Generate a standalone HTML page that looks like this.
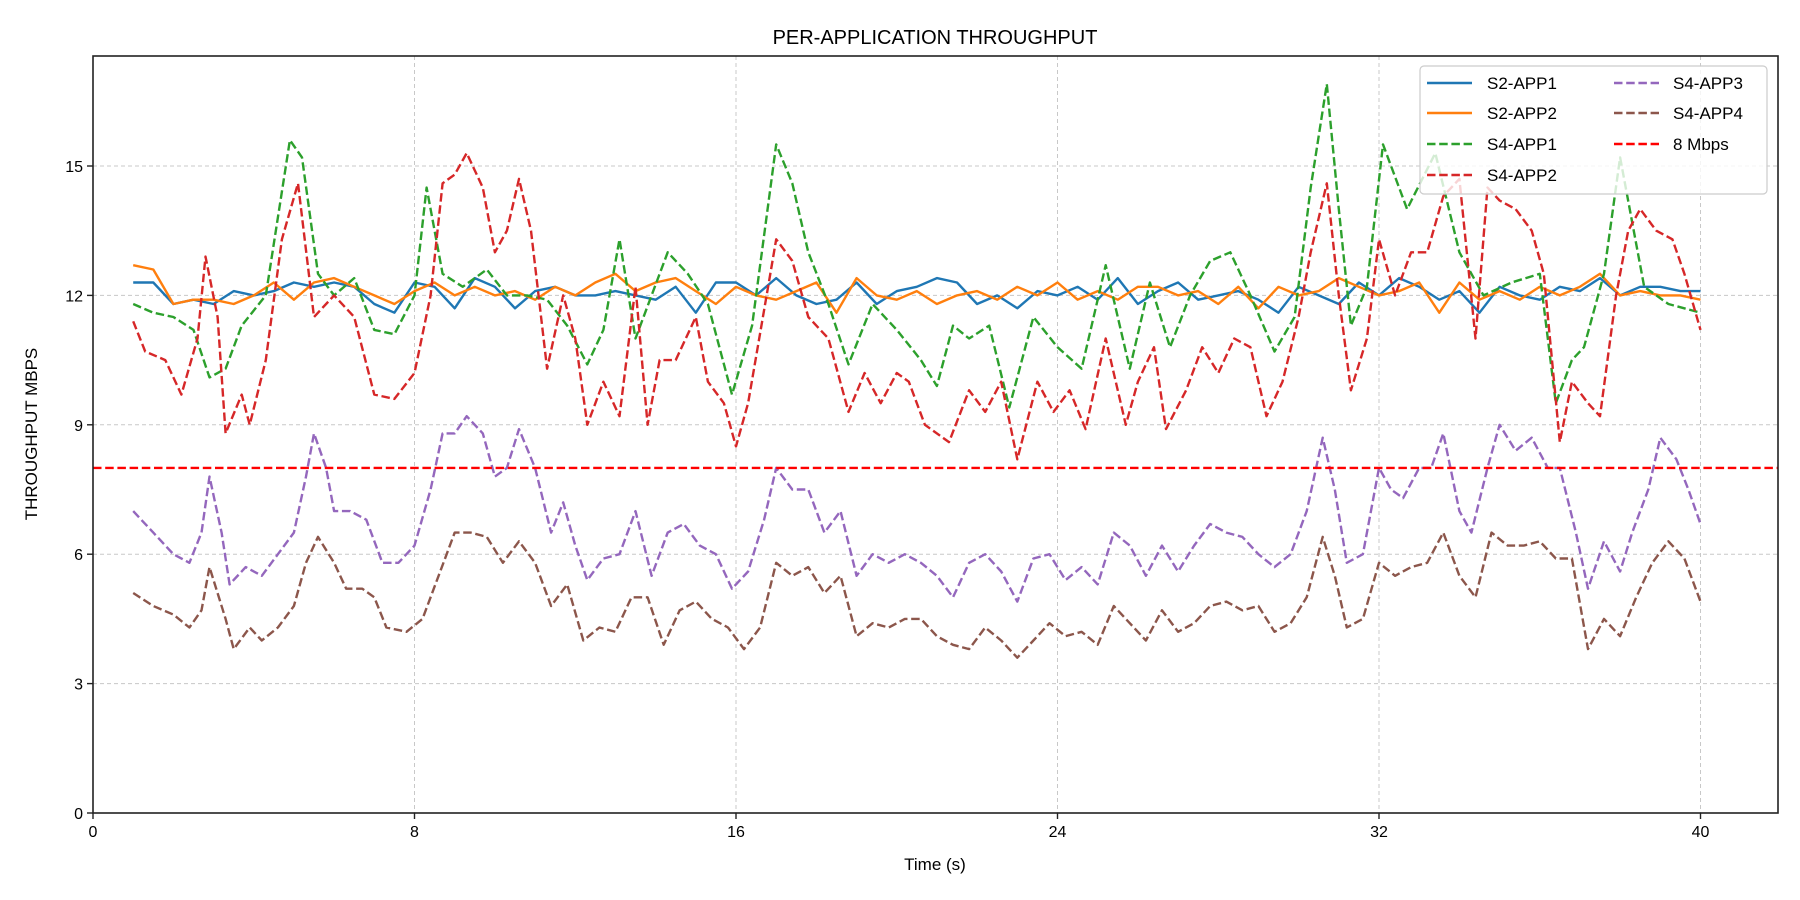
<!DOCTYPE html>
<html><head><meta charset="utf-8"><style>
html,body{margin:0;padding:0;background:#fff;}
svg{display:block;font-family:"Liberation Sans","DejaVu Sans",sans-serif;}
</style></head><body>
<svg id="chart" width="1800" height="900" viewBox="0 0 1800 900" xmlns="http://www.w3.org/2000/svg">
<text x="935" y="44" font-size="20" text-anchor="middle" fill="#000">PER-APPLICATION THROUGHPUT</text>
<text x="935" y="870" font-size="17" text-anchor="middle" fill="#000">Time (s)</text>
<text x="37" y="434" font-size="17" text-anchor="middle" fill="#000" transform="rotate(-90 37 434)">THROUGHPUT MBPS</text>
<g id="grid"></g>
<g id="series"></g>
<rect x="93" y="56" width="1685" height="757" fill="none" stroke="#222" stroke-width="1.6"/>
<g id="ticks"></g>
<g id="legend"></g>
</svg>
<script>
const xTicks=[0,8,16,24,32,40];
const yTicks=[0,3,6,9,12,15];
const threshold=8;
const s2app1=[12.3,12.3,11.8,11.9,11.8,12.1,12.0,12.1,12.3,12.2,12.3,12.2,11.8,11.6,12.3,12.2,11.7,12.4,12.2,11.7,12.1,12.2,12.0,12.0,12.1,12.0,11.9,12.2,11.6,12.3,12.3,12.0,12.4,12.0,11.8,11.9,12.3,11.8,12.1,12.2,12.4,12.3,11.8,12.0,11.7,12.1,12.0,12.2,11.9,12.4,11.8,12.1,12.3,11.9,12.0,12.1,11.9,11.6,12.2,12.0,11.8,12.3,12.0,12.4,12.2,11.9,12.1,11.6,12.2,12.0,11.9,12.2,12.1,12.4,12.0,12.2,12.2,12.1,12.1];
const s2app2=[12.7,12.6,11.8,11.9,11.9,11.8,12.0,12.3,11.9,12.3,12.4,12.2,12.0,11.8,12.1,12.3,12.0,12.2,12.0,12.1,11.9,12.2,12.0,12.3,12.5,12.1,12.3,12.4,12.1,11.8,12.2,12.0,11.9,12.1,12.3,11.6,12.4,12.0,11.9,12.1,11.8,12.0,12.1,11.9,12.2,12.0,12.3,11.9,12.1,11.9,12.2,12.2,12.0,12.1,11.8,12.2,11.7,12.2,12.0,12.1,12.4,12.2,12.0,12.1,12.3,11.6,12.3,11.9,12.1,11.9,12.2,12.0,12.2,12.5,12.0,12.1,12.0,12.0,11.9];
const app1T=[1,1.5,2,2.5,2.9,3.3,3.7,4.3,4.9,5.2,5.6,6,6.5,7,7.5,8,8.3,8.7,9.2,9.8,10.3,10.8,11.3,11.8,12.3,12.7,13.1,13.5,14.3,14.8,15.3,15.9,16.4,17.0,17.4,17.8,18.3,18.8,19.4,20,20.6,21,21.4,21.8,22.3,22.8,23.4,24,24.6,25.2,25.8,26.3,26.8,27.3,27.8,28.3,28.8,29.4,29.9,30.3,30.7,31.0,31.3,31.7,32.1,32.7,33.4,34.0,34.6,35.3,36.0,36.4,36.8,37.1,37.6,38.0,38.6,39.2,40];
const app1V=[11.8,11.6,11.5,11.2,10.1,10.3,11.3,12.0,15.6,15.2,12.5,12.0,12.4,11.2,11.1,12.0,14.5,12.5,12.2,12.6,12.0,12.0,11.9,11.3,10.4,11.2,13.3,11.0,13.0,12.5,11.8,9.7,11.3,15.5,14.6,13.0,11.8,10.4,11.8,11.2,10.5,9.9,11.3,11.0,11.3,9.4,11.5,10.8,10.3,12.7,10.3,12.3,10.8,12.0,12.8,13.0,12.0,10.7,11.5,14.5,16.9,14.0,11.3,12.2,15.5,14.0,15.3,13.0,12.0,12.3,12.5,9.5,10.5,10.8,12.5,15.2,12.2,11.8,11.6];
const app2T=[1,1.3,1.8,2.2,2.6,2.8,3.1,3.3,3.7,3.9,4.3,4.7,5.1,5.5,6,6.5,7,7.5,8,8.4,8.7,9.0,9.3,9.7,10.0,10.3,10.6,10.9,11.3,11.7,12.0,12.3,12.7,13.1,13.5,13.8,14.1,14.5,15,15.3,15.7,16,16.3,16.8,17.0,17.4,17.8,18.3,18.8,19.2,19.6,20.0,20.3,20.7,21.3,21.8,22.2,22.6,23.0,23.5,23.9,24.3,24.7,25.2,25.7,26.0,26.4,26.7,27.2,27.6,28.0,28.4,28.8,29.2,29.6,30.0,30.3,30.7,31.0,31.3,31.7,32.0,32.4,32.8,33.2,33.6,34.0,34.4,34.7,35.0,35.4,35.8,36.1,36.5,36.8,37.2,37.5,37.9,38.2,38.5,38.9,39.3,39.6,40.0];
const app2V=[11.4,10.7,10.5,9.7,11.0,12.9,11.5,8.8,9.7,9.0,10.5,13.3,14.6,11.5,12.0,11.5,9.7,9.6,10.2,12.0,14.6,14.8,15.3,14.5,13.0,13.5,14.7,13.5,10.3,12.0,11.0,9.0,10.0,9.2,12.2,9.0,10.5,10.5,11.5,10.0,9.5,8.5,9.5,12.2,13.3,12.8,11.5,11.0,9.3,10.2,9.5,10.2,10.0,9.0,8.6,9.8,9.3,10.0,8.2,10.0,9.3,9.8,8.9,11.0,9.0,10.0,10.8,8.9,9.8,10.8,10.2,11.0,10.8,9.2,10.0,11.5,13.0,14.6,12.0,9.8,11.0,13.3,12.0,13.0,13.0,14.3,14.7,11.0,14.5,14.2,14.0,13.5,12.5,8.6,10.0,9.5,9.2,12.0,13.5,14.0,13.5,13.3,12.5,11.2];
const app3T=[1,1.5,2.0,2.4,2.7,2.9,3.2,3.4,3.8,4.2,4.6,5.0,5.3,5.5,5.8,6.0,6.4,6.8,7.2,7.6,8.0,8.4,8.7,9.0,9.3,9.7,10.0,10.3,10.6,11.0,11.4,11.7,12.0,12.3,12.7,13.1,13.5,13.9,14.3,14.7,15.1,15.5,15.9,16.3,16.7,17.0,17.4,17.8,18.2,18.6,19.0,19.4,19.8,20.2,20.6,21.0,21.4,21.8,22.2,22.6,23.0,23.4,23.8,24.2,24.6,25.0,25.4,25.8,26.2,26.6,27.0,27.4,27.8,28.2,28.6,29.0,29.4,29.8,30.2,30.6,30.9,31.2,31.6,32.0,32.3,32.6,33.0,33.3,33.6,34.0,34.3,34.7,35.0,35.4,35.8,36.2,36.5,36.9,37.2,37.6,38.0,38.3,38.7,39.0,39.4,39.7,40.0];
const app3V=[7.0,6.5,6.0,5.8,6.5,7.8,6.5,5.3,5.7,5.5,6.0,6.5,7.8,8.8,8.0,7.0,7.0,6.8,5.8,5.8,6.2,7.5,8.8,8.8,9.2,8.8,7.8,8.0,8.9,8.0,6.5,7.2,6.2,5.4,5.9,6.0,7.0,5.5,6.5,6.7,6.2,6.0,5.2,5.6,6.8,8.0,7.5,7.5,6.5,7.0,5.5,6.0,5.8,6.0,5.8,5.5,5.0,5.8,6.0,5.6,4.9,5.9,6.0,5.4,5.7,5.3,6.5,6.2,5.5,6.2,5.6,6.2,6.7,6.5,6.4,6.0,5.7,6.0,7.0,8.7,7.5,5.8,6.0,8.0,7.5,7.3,8.0,8.0,8.8,7.0,6.5,8.0,9.0,8.4,8.7,8.0,8.0,6.5,5.2,6.3,5.6,6.5,7.5,8.7,8.2,7.5,6.7];
const app4T=[1,1.5,2.0,2.4,2.7,2.9,3.3,3.5,3.9,4.2,4.6,5.0,5.3,5.6,6.0,6.3,6.7,7.0,7.3,7.8,8.2,8.6,9.0,9.4,9.8,10.2,10.6,11.0,11.4,11.8,12.2,12.6,13.0,13.4,13.8,14.2,14.6,15.0,15.4,15.8,16.2,16.6,17.0,17.4,17.8,18.2,18.6,19.0,19.4,19.8,20.2,20.6,21.0,21.4,21.8,22.2,22.6,23.0,23.4,23.8,24.2,24.6,25.0,25.4,25.8,26.2,26.6,27.0,27.4,27.8,28.2,28.6,29.0,29.4,29.8,30.2,30.6,30.9,31.2,31.6,32.0,32.4,32.8,33.2,33.6,34.0,34.4,34.8,35.2,35.6,36.0,36.4,36.8,37.2,37.6,38.0,38.4,38.8,39.2,39.6,40.0];
const app4V=[5.1,4.8,4.6,4.3,4.7,5.7,4.5,3.8,4.3,4.0,4.3,4.8,5.8,6.4,5.8,5.2,5.2,5.0,4.3,4.2,4.5,5.5,6.5,6.5,6.4,5.8,6.3,5.8,4.8,5.3,4.0,4.3,4.2,5.0,5.0,3.9,4.7,4.9,4.5,4.3,3.8,4.3,5.8,5.5,5.7,5.1,5.5,4.1,4.4,4.3,4.5,4.5,4.1,3.9,3.8,4.3,4.0,3.6,4.0,4.4,4.1,4.2,3.9,4.8,4.4,4.0,4.7,4.2,4.4,4.8,4.9,4.7,4.8,4.2,4.4,5.0,6.4,5.5,4.3,4.5,5.8,5.5,5.7,5.8,6.5,5.5,5.0,6.5,6.2,6.2,6.3,5.9,5.9,3.8,4.5,4.1,5.0,5.8,6.3,5.9,4.9];

const NS='http://www.w3.org/2000/svg';
const L=93,R=1778,T=56,B=813;
const X=v=>L+v*(414.5-93)/8;
const Y=v=>B-v*(B-166)/15;
function mk(tag,attrs,parent){const e=document.createElementNS(NS,tag);for(const k in attrs)e.setAttribute(k,attrs[k]);parent.appendChild(e);return e;}
const grid=document.getElementById('grid'),ticks=document.getElementById('ticks'),ser=document.getElementById('series'),leg=document.getElementById('legend');
xTicks.forEach(t=>{
  const g=mk('line',{x1:X(t),x2:X(t),y1:T,y2:B,stroke:'#c8c8c8','stroke-width':1,'stroke-dasharray':'4,3'},grid);
  
  
  const tk=mk('line',{x1:X(t),x2:X(t),y1:B,y2:B+6,stroke:'#222','stroke-width':1.4},ticks);
  
  
  const tx=mk('text',{x:X(t),y:B+24,'font-size':16,'text-anchor':'middle',fill:'#000'},ticks);
  tx.textContent=t;
  
  
});
yTicks.forEach(t=>{
  const g=mk('line',{x1:L,x2:R,y1:Y(t),y2:Y(t),stroke:'#c8c8c8','stroke-width':1,'stroke-dasharray':'4,3'},grid);
  
  
  const tk=mk('line',{x1:L-6,x2:L,y1:Y(t),y2:Y(t),stroke:'#222','stroke-width':1.4},ticks);
  
  
  const tx=mk('text',{x:L-10,y:Y(t)+6,'font-size':16,'text-anchor':'end',fill:'#000'},ticks);
  tx.textContent=t;
  
  
});
function evenT(n){const a=[];for(let i=0;i<n;i++)a.push(1+i*39/(n-1));return a;}
const series=[
 {name:'S2-APP1',t:evenT(s2app1.length),v:s2app1,c:'#1f77b4',dash:null},
 {name:'S2-APP2',t:evenT(s2app2.length),v:s2app2,c:'#ff7f0e',dash:null},
 {name:'S4-APP1',t:app1T,v:app1V,c:'#2ca02c',dash:'8.5,3.7'},
 {name:'S4-APP2',t:app2T,v:app2V,c:'#d62728',dash:'8.5,3.7'},
 {name:'S4-APP3',t:app3T,v:app3V,c:'#9467bd',dash:'8.5,3.7'},
 {name:'S4-APP4',t:app4T,v:app4V,c:'#8c564b',dash:'8.5,3.7'}
];
series.forEach(s=>{
  const n=Math.min(s.t.length,s.v.length);
  const d=s.v.slice(0,n).map((v,i)=>(i?'L':'M')+X(s.t[i]).toFixed(1)+','+Y(v).toFixed(1)).join('');
  const a={d:d,fill:'none',stroke:s.c,'stroke-width':2.4,'stroke-linejoin':'round'};
  if(s.dash)a['stroke-dasharray']=s.dash;
  const p=mk('path',a,ser);
  
  
});
const th=mk('line',{x1:L,x2:R,y1:Y(threshold),y2:Y(threshold),stroke:'#ff0000','stroke-width':2.4,'stroke-dasharray':'8.5,3.7'},ser);


const box=mk('rect',{x:1420,y:66,width:347,height:128,rx:4,fill:'#fff','fill-opacity':0.8,stroke:'#ccc','stroke-width':1.2},leg);


const entries=series.map(s=>({name:s.name,c:s.c,dash:s.dash})).concat([{name:'8 Mbps',c:'#ff0000',dash:'8.5,3.7'}]);
const rowsY=[83,113,144,175];
entries.forEach((e,i)=>{
  const col=i<4?0:1,row=i<4?i:i-4;
  const lx=col?1614:1427,tx=col?1673:1487,y=rowsY[row];
  const a={x1:lx,x2:lx+45,y1:y,y2:y,stroke:e.c,'stroke-width':2.4};
  if(e.dash)a['stroke-dasharray']=e.dash;
  const ln=mk('line',a,leg);
  
  
  const t=mk('text',{x:tx,y:y+6,'font-size':17,fill:'#000'},leg);
  t.textContent=e.name;
  
  
});
</script>
</body></html>
